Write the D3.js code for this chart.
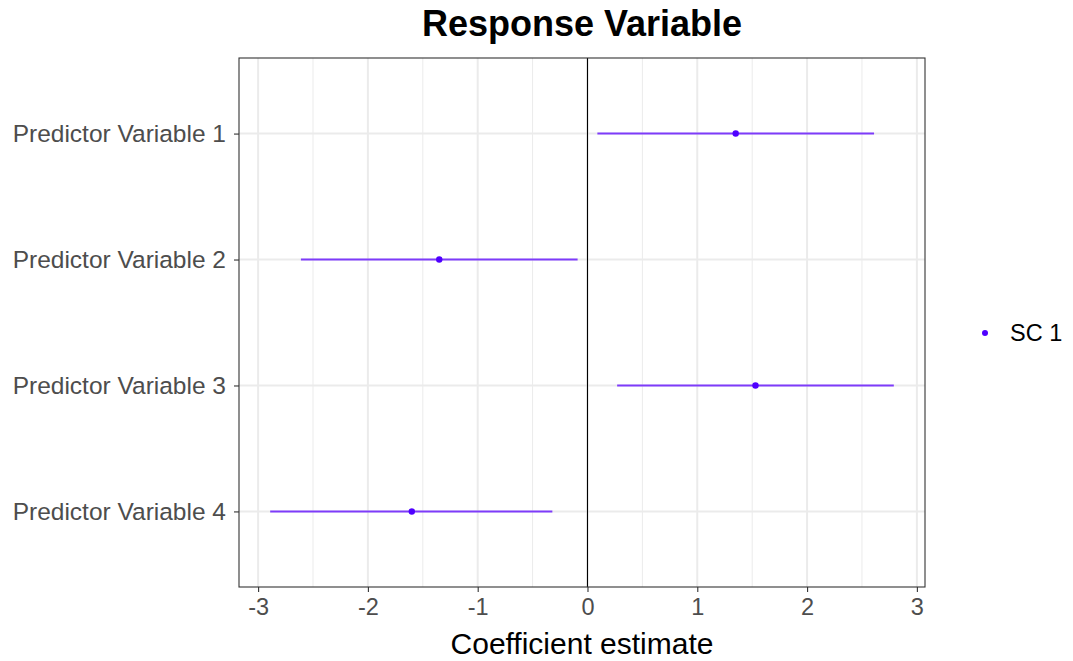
<!DOCTYPE html>
<html><head><meta charset="utf-8">
<script src="https://cdn.jsdelivr.net/npm/d3@7"></script>
<style>body{margin:0;background:#fff;} svg{display:block;font-family:"Liberation Sans",Arial,Helvetica,sans-serif;}</style>
</head><body><svg id="c" width="1073" height="661"></svg>
<script>
const categories = ["Predictor Variable 1","Predictor Variable 2","Predictor Variable 3","Predictor Variable 4"];
const estimates = [1.35, -1.35, 1.53, -1.60];
const lower = [0.09, -2.61, 0.27, -2.89];
const upper = [2.61, -0.09, 2.79, -0.32];
const xTicks = [-3,-2,-1,0,1,2,3];
const xMinor = [-2.5,-1.5,-0.5,0.5,1.5,2.5];
const seriesName = "SC 1";
const titleText = "Response Variable";
const xTitle = "Coefficient estimate";

const svg = d3.select("#c");
const L = 239, R = 925, T = 58, B = 587;
const lo = d3.min(lower), hi = d3.max(upper), ex = (hi - lo) * 0.05;
const x = d3.scaleLinear().domain([lo - ex, hi + ex]).range([L, R]);
const y = d3.scalePoint().domain(categories).range([T, B]).padding(0.6);
const FF = "Liberation Sans, Arial, sans-serif";

svg.append("rect").attr("x",L).attr("y",T).attr("width",R-L).attr("height",B-T).attr("fill","#fff");
const g = svg.append("g");
g.selectAll(".minor").data(xMinor).join("line")
  .attr("x1",d=>x(d)).attr("x2",d=>x(d)).attr("y1",T).attr("y2",B)
  .attr("stroke","#ebebeb").attr("stroke-width",1);
g.selectAll(".majx").data(xTicks).join("line")
  .attr("x1",d=>x(d)).attr("x2",d=>x(d)).attr("y1",T).attr("y2",B)
  .attr("stroke","#ebebeb").attr("stroke-width",2);
g.selectAll(".majy").data(categories).join("line")
  .attr("y1",d=>y(d)).attr("y2",d=>y(d)).attr("x1",L).attr("x2",R)
  .attr("stroke","#ebebeb").attr("stroke-width",2);
g.append("line").attr("x1",x(0)).attr("x2",x(0)).attr("y1",T).attr("y2",B)
  .attr("stroke","#000").attr("stroke-width",1.1);
g.selectAll(".wh").data(categories).join("line")
  .attr("x1",(d,i)=>x(lower[i])).attr("x2",(d,i)=>x(upper[i]))
  .attr("y1",d=>y(d)).attr("y2",d=>y(d))
  .attr("stroke","#5a00ff").attr("stroke-opacity",0.75).attr("stroke-width",2);
g.selectAll(".pt").data(categories).join("circle")
  .attr("cx",(d,i)=>x(estimates[i])).attr("cy",d=>y(d)).attr("r",3.2)
  .attr("fill","#4f00ff");
svg.append("rect").attr("x",L).attr("y",T).attr("width",R-L).attr("height",B-T)
  .attr("fill","none").attr("stroke","#333").attr("stroke-width",1.1);

const xa = svg.append("g").attr("transform",`translate(0,${B})`)
  .call(d3.axisBottom(x).tickValues(xTicks).tickSize(5).tickPadding(6).tickFormat(d=>String(d)));
xa.select(".domain").remove();
xa.selectAll(".tick line").attr("stroke","#333").attr("stroke-width",1.1);
xa.selectAll("text").attr("fill","#4d4d4d").attr("font-size",23.5).style("font-family",FF);
const ya = svg.append("g").attr("transform",`translate(${L},0)`)
  .call(d3.axisLeft(y).tickSize(5).tickPadding(8));
ya.select(".domain").remove();
ya.selectAll(".tick line").attr("stroke","#333").attr("stroke-width",1.1);
ya.selectAll("text").attr("fill","#4d4d4d").attr("font-size",24.5).style("font-family",FF);

svg.append("text").attr("x",(L+R)/2).attr("y",36).attr("text-anchor","middle")
  .attr("font-size",36).attr("font-weight","bold").attr("fill","#000").text(titleText);
svg.append("text").attr("x",(L+R)/2).attr("y",654).attr("text-anchor","middle")
  .attr("font-size",30).attr("fill","#000").text(xTitle);

svg.append("circle").attr("cx",985).attr("cy",333).attr("r",3).attr("fill","#4f00ff");
svg.append("text").attr("x",1010).attr("y",341).attr("font-size",23.5).attr("fill","#000").text(seriesName);
</script></body></html>
